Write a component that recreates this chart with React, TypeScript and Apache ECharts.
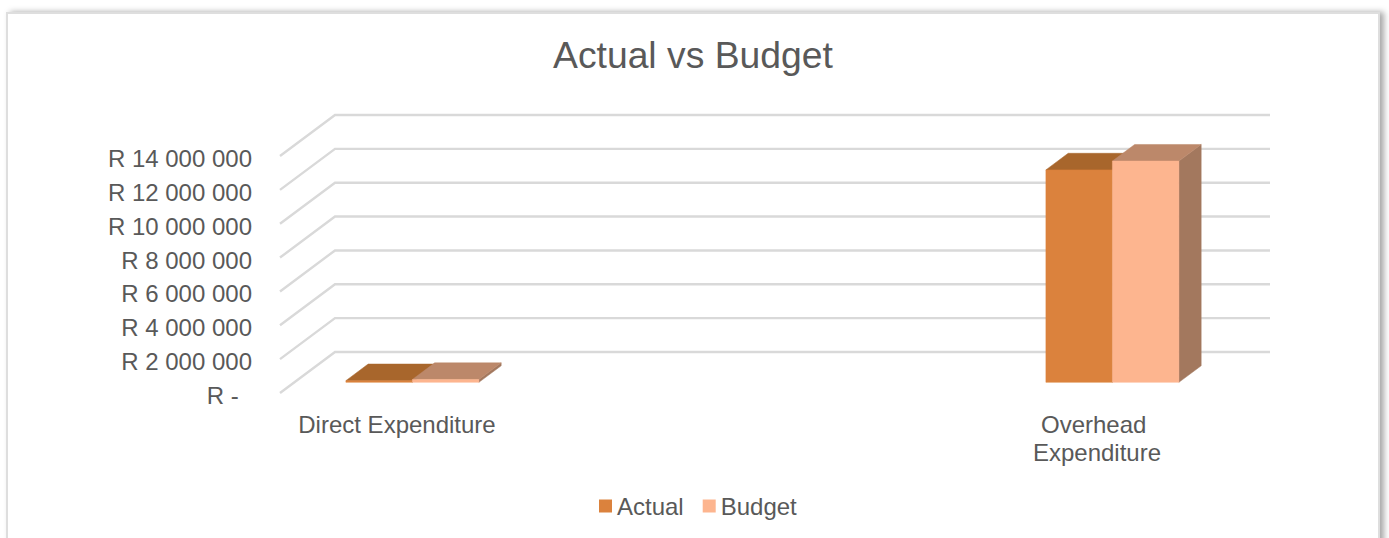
import React, { useEffect, useRef } from "react";
import * as echarts from "echarts";

const categories = ["Direct Expenditure", "Overhead Expenditure"];
const actualValues = [100000, 12550000];
const budgetValues = [170000, 13070000];
const wallTicks = [0, 2000000, 4000000, 6000000, 8000000, 10000000, 12000000, 14000000];

const FONT = "'Liberation Sans', Arial, sans-serif";
const TEXT = "#595959";
const GRID_LINE = "#d9d9d9";

// Oblique projection of the plot box: the floor recedes this far, in pixels.
const WALL_DX = 55;
const WALL_DY = -41;
const WALL_WIDTH = 935;
const AXIS_INSET = 117;
// Bars stand part-way back on the floor.
const BAR_NEAR_X = 0.28;
const BAR_NEAR_Y = 0.26;
const BAR_DEPTH = 0.405;
const BAR_RATIO = 0.095;

const formatRand = (v: number) =>
  v === 0 ? "R -\u00a0\u00a0" : "R " + String(v).replace(/\B(?=(\d{3})+$)/g, " ");

function renderWall(params: any, api: any) {
  const base = api.coord([0, api.value(0)]);
  const left = params.coordSys.x - AXIS_INSET;
  const y = base[1];
  return {
    type: "polyline",
    shape: {
      points: [
        [left, y],
        [left + WALL_DX, y + WALL_DY],
        [left + WALL_DX + WALL_WIDTH, y + WALL_DY],
      ],
    },
    style: { stroke: GRID_LINE, lineWidth: 2.4, fill: "none" },
    silent: true,
  };
}

function barRenderer(slot: number, front: string, top: string, side: string) {
  return (_params: any, api: any) => {
    const p = api.coord([api.value(0), api.value(1)]);
    const o = api.coord([api.value(0), 0]);
    const w = api.size([1, 0])[0] * BAR_RATIO;
    const ox = WALL_DX * BAR_NEAR_X;
    const oy = WALL_DY * BAR_NEAR_Y;
    const dx = WALL_DX * BAR_DEPTH;
    const dy = WALL_DY * BAR_DEPTH;
    const x0 = p[0] + ox + slot * w;
    const x1 = x0 + w;
    const yTop = p[1] + oy;
    const yBase = o[1] + oy;
    const face = (points: number[][], fill: string) => ({
      type: "polygon",
      shape: { points },
      style: { fill, stroke: fill, lineWidth: 0.5 },
    });
    return {
      type: "group",
      children: [
        face([[x1, yTop], [x1 + dx, yTop + dy], [x1 + dx, yBase + dy], [x1, yBase]], side),
        face([[x0, yTop], [x0 + dx, yTop + dy], [x1 + dx, yTop + dy], [x1, yTop]], top),
        face([[x0, yTop], [x1, yTop], [x1, yBase], [x0, yBase]], front),
      ],
    };
  };
}

export default function App() {
  const ref = useRef<HTMLDivElement>(null);

  useEffect(() => {
    document.body.style.margin = "0";
    document.body.style.overflow = "hidden";
    const chart = echarts.init(ref.current!, null, { renderer: "svg" });
    chart.setOption({
      animation: false,
      backgroundColor: "transparent",
      title: {
        text: "Actual vs Budget",
        left: 548,
        top: 31,
        textStyle: { color: TEXT, fontFamily: FONT, fontSize: 37.3, fontWeight: "normal" },
      },
      legend: {
        data: ["Actual", "Budget"],
        left: 594,
        top: 489,
        icon: "rect",
        itemWidth: 13,
        itemHeight: 13,
        itemGap: 19,
        textStyle: { color: TEXT, fontFamily: FONT, fontSize: 24 },
      },
      grid: { left: 397, width: 700, top: 156, height: 237 },
      xAxis: {
        type: "category",
        data: categories,
        boundaryGap: false,
        axisLine: { show: false },
        axisTick: { show: false },
        splitLine: { show: false },
        axisLabel: {
          color: TEXT,
          fontFamily: FONT,
          fontSize: 24,
          lineHeight: 27.5,
          margin: 18,
          interval: 0,
          width: 205,
          overflow: "break",
        },
      },
      yAxis: {
        type: "value",
        min: 0,
        max: 14000000,
        interval: 2000000,
        offset: AXIS_INSET,
        axisLine: { show: false },
        axisTick: { show: false },
        splitLine: { show: false },
        axisLabel: {
          color: TEXT,
          fontFamily: FONT,
          fontSize: 24,
          margin: 28,
          verticalAlign: "top",
          lineHeight: 5,
          formatter: formatRand,
        },
      },
      series: [
        {
          name: "wall",
          type: "custom",
          data: wallTicks.map((v) => [v]),
          encode: { y: 0 },
          renderItem: renderWall,
          silent: true,
          z: 1,
        },
        {
          name: "Actual",
          type: "custom",
          itemStyle: { color: "#DB823D" },
          data: actualValues.map((v, i) => [i, v]),
          encode: { x: 0, y: 1 },
          renderItem: barRenderer(-1, "#DB823D", "#A8662C", "#A3785E"),
          z: 2,
        },
        {
          name: "Budget",
          type: "custom",
          itemStyle: { color: "#FDB58F" },
          data: budgetValues.map((v, i) => [i, v]),
          encode: { x: 0, y: 1 },
          renderItem: barRenderer(0, "#FDB58F", "#BC886A", "#A3785E"),
          z: 3,
        },
      ],
    });
    return () => chart.dispose();
  }, []);

  return (
    <div style={{ position: "fixed", left: 0, top: 0, width: 1389, height: 538, background: "#fff", overflow: "hidden" }}>
      <div
        style={{
          position: "absolute",
          left: 6,
          top: 12,
          width: 1374,
          height: 600,
          boxSizing: "border-box",
          border: "2px solid #dedede",
          background: "#fff",
          boxShadow: "4px 0 6px rgba(0,0,0,0.35)",
        }}
      />
      <div ref={ref} style={{ position: "absolute", left: 0, top: 0, width: 1389, height: 538 }} />
    </div>
  );
}
